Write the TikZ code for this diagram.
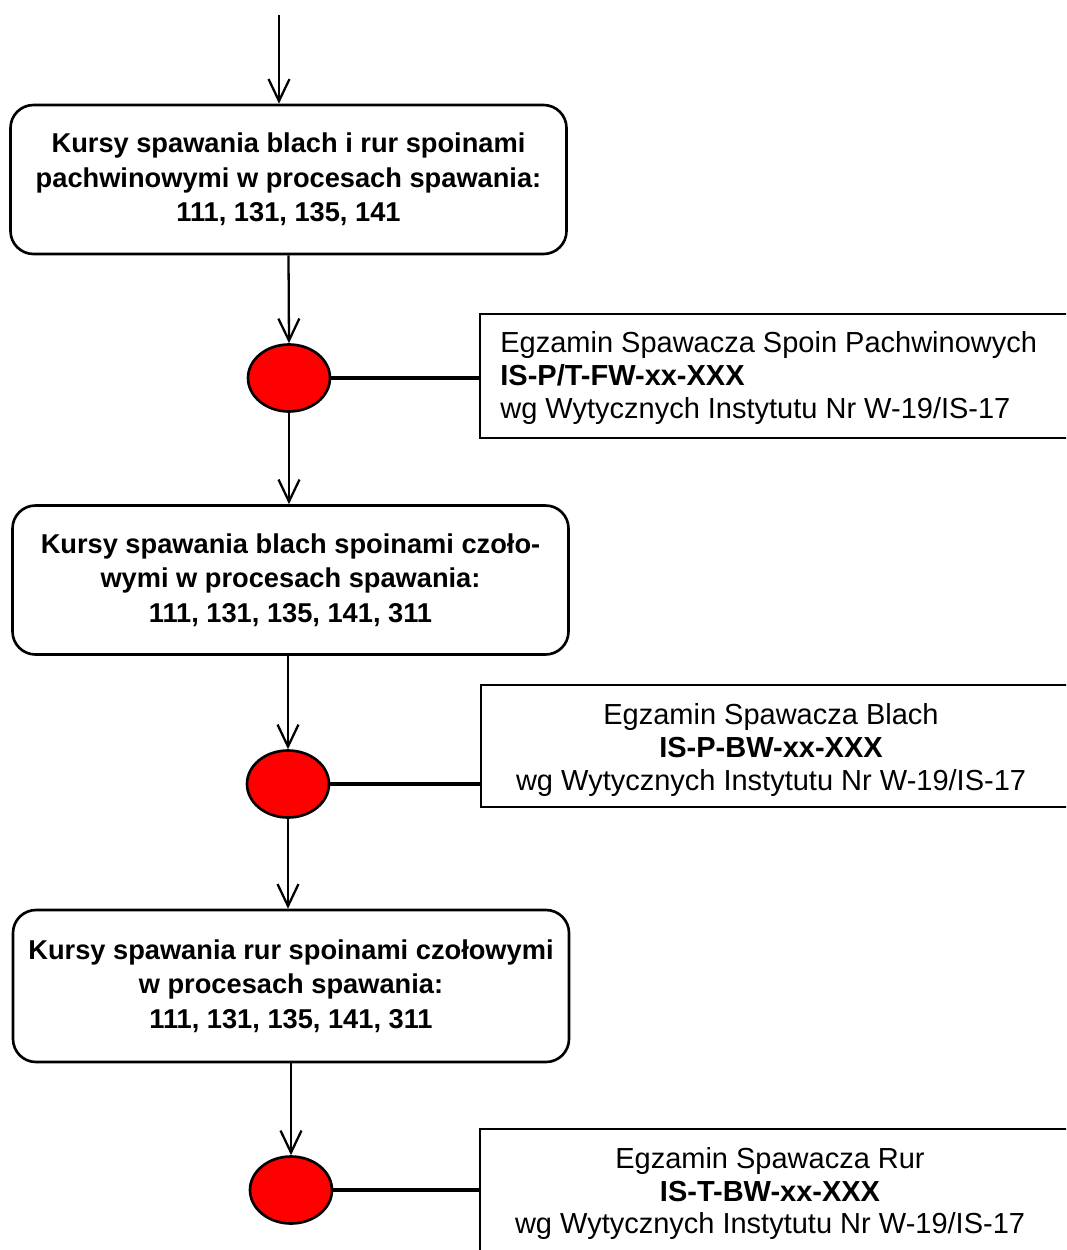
\documentclass[tikz,border=0pt]{standalone}
\usepackage{fontspec}
\setmainfont{Liberation Sans}
\usetikzlibrary{arrows.meta,shapes.geometric}

\begin{document}
\begin{tikzpicture}[
  kurs/.style={draw,line width=1.5pt,rounded corners=0.46cm,minimum width=11.12cm,minimum height=2.98cm,align=center,font=\fontsize{15.5}{19.5}\selectfont\bfseries},
  punkt/.style={ellipse,draw,line width=1.5pt,fill=red,minimum width=1.64cm,minimum height=1.34cm,inner sep=0pt},
  egzamin/.style={draw,line width=1.4pt,anchor=north west,minimum width=12.5cm,inner sep=0pt},
  opis/.style={font=\fontsize{16.5}{18.7}\selectfont,inner sep=0pt},
  strzalka/.style={line width=1.3pt,-{Straight Barb[length=0.44cm,width=0.42cm]}},
  laczenie/.style={line width=1.9pt}
]

%Page size (picture is cut at the borders)
\useasboundingbox (0,0) rectangle (21.32,-25);
\clip (0,0) rectangle (21.32,-25);

%Start of the flow
\coordinate (start) at (5.58,-0.3);

%Kursy spoin pachwinowych
\node[kurs] (kurs1) at (5.77,-3.59) {Kursy spawania blach i rur spoinami\\pachwinowymi w procesach spawania:\\111, 131, 135, 141};
\node[punkt] (punkt1) at (5.78,-7.56) {};
\node[egzamin,minimum height=2.48cm] (egz1) at (9.58,-6.26) {};
\node[opis,anchor=west,align=left] (opis1) at (10.0,-7.56) {Egzamin Spawacza Spoin Pachwinowych\\\textbf{IS-P/T-FW-xx-XXX}\\wg Wytycznych Instytutu Nr W-19/IS-17};

%Kursy spoin czolowych blach
\node[kurs] (kurs2) at (5.81,-11.6) {Kursy spawania blach spoinami czoło-\\wymi w procesach spawania:\\111, 131, 135, 141, 311};
\node[punkt] (punkt2) at (5.76,-15.68) {};
\node[egzamin,minimum height=2.44cm] (egz2) at (9.6,-13.68) {};
\node[opis,align=center] (opis2) at (15.42,-15.0) {Egzamin Spawacza Blach\\\textbf{IS-P-BW-xx-XXX}\\wg Wytycznych Instytutu Nr W-19/IS-17};

%Kursy spoin czolowych rur
\node[kurs,minimum height=3.04cm] (kurs3) at (5.82,-19.72) {Kursy spawania rur spoinami czołowymi\\w procesach spawania:\\111, 131, 135, 141, 311};
\node[punkt] (punkt3) at (5.82,-23.8) {};
\node[egzamin,minimum height=4cm] (egz3) at (9.58,-22.56) {};
\node[opis,align=center] (opis3) at (15.4,-23.87) {Egzamin Spawacza Rur\\\textbf{IS-T-BW-xx-XXX}\\wg Wytycznych Instytutu Nr W-19/IS-17};

%Arrows
\draw[strzalka] (start) -- (start |- kurs1.north);
\draw[strzalka] (kurs1.south) -- (punkt1.north);
\draw[strzalka] (punkt1.south) -- (punkt1.south |- kurs2.north);
\draw[strzalka] (punkt2 |- kurs2.south) -- (punkt2.north);
\draw[strzalka] (punkt2.south) -- (punkt2.south |- kurs3.north);
\draw[strzalka] (kurs3.south) -- (punkt3.north);

%Lines to the exams
\draw[laczenie] (punkt1.east) -- (punkt1.east -| egz1.west);
\draw[laczenie] (punkt2.east) -- (punkt2.east -| egz2.west);
\draw[laczenie] (punkt3.east) -- (punkt3.east -| egz3.west);

\end{tikzpicture}
\end{document}
